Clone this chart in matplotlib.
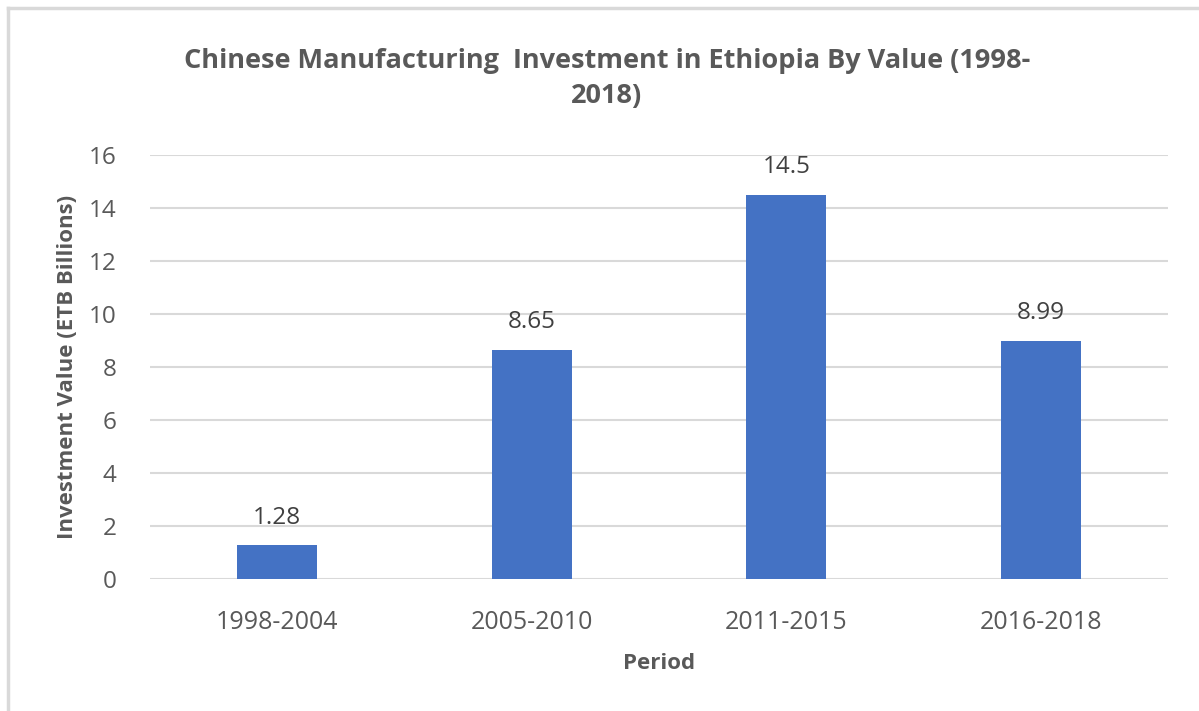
import matplotlib.pyplot as plt
from matplotlib.lines import Line2D

periods = ["1998-2004", "2005-2010", "2011-2015", "2016-2018"]
investment = [1.28, 8.65, 14.5, 8.99]
value_labels = ["1.28", "8.65", "14.5", "8.99"]
y_ticks = [0, 2, 4, 6, 8, 10, 12, 14, 16]

plt.rcParams["font.family"] = ["Open Sans", "DejaVu Sans"]

fig = plt.figure(figsize=(11.99, 7.11), dpi=100)
ax = fig.add_axes([150 / 1199, 1 - 579 / 711, 1018 / 1199, 424 / 711])

x = range(len(periods))
bars = ax.bar(x, investment, width=0.315, color="#4472c4", zorder=3)
for b, lab in zip(bars, value_labels):
    ax.annotate(lab, (b.get_x() + b.get_width() / 2, b.get_height()),
                xytext=(0, 11), textcoords="offset points", ha="center",
                va="bottom", fontsize=17.5, color="#404040")

ax.set_xlim(-0.5, len(periods) - 0.5)
ax.set_ylim(0, 16)
ax.set_yticks(y_ticks)
ax.set_xticks(list(x))
ax.set_xticklabels(periods)
ax.tick_params(axis="both", length=0, labelcolor="#595959")
ax.tick_params(axis="y", labelsize=17.5, pad=24)
ax.tick_params(axis="x", labelsize=18, pad=22)
ax.grid(axis="y", color="#d9d9d9", linewidth=1.5, zorder=0)
for s in ax.spines.values():
    s.set_visible(False)

ax.set_ylabel("Investment Value (ETB Billions)", fontsize=16, fontweight="bold",
              color="#595959", labelpad=8)
ax.set_xlabel("Period", fontsize=16, fontweight="bold", color="#595959", labelpad=13)

fig.text(607 / 1199, 1 - 78 / 711,
         "Chinese Manufacturing  Investment in Ethiopia By Value (1998-\n2018)",
         ha="center", va="center", fontsize=19.5, fontweight="bold",
         color="#595959", linespacing=1.45)

# chart frame (top and left edges)
fig.add_artist(Line2D([8 / 1199, 1], [1 - 8 / 711, 1 - 8 / 711],
                      transform=fig.transFigure, color="#d9d9d9", linewidth=2.5))
fig.add_artist(Line2D([8 / 1199, 8 / 1199], [0, 1 - 8 / 711],
                      transform=fig.transFigure, color="#d9d9d9", linewidth=2.5))

fig.savefig("out.png", dpi=100, facecolor="white")
